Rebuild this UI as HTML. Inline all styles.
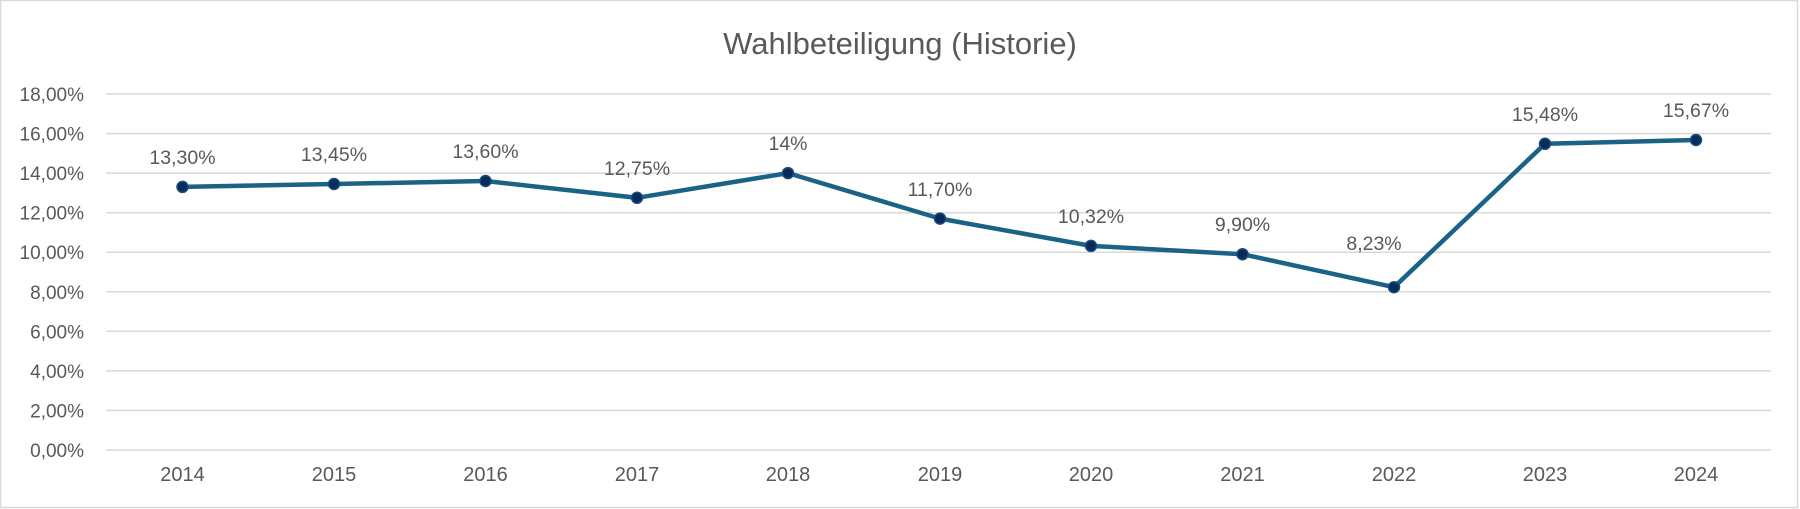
<!DOCTYPE html>
<html><head><meta charset="utf-8"><style>
html,body{margin:0;padding:0;background:#fff}
svg{display:block}
text{font-family:"Liberation Sans",sans-serif;fill:#595959}
</style></head><body>
<svg width="1800" height="509" viewBox="0 0 1800 509" xmlns="http://www.w3.org/2000/svg">
<rect x="0.5" y="0.5" width="1797" height="507" fill="#fff" stroke="#d9d9d9" stroke-width="1.5"/>
<text x="900" y="54" font-size="31" text-anchor="middle">Wahlbeteiligung (Historie)</text>
<g stroke="#d9d9d9" stroke-width="1.5">
<line x1="106" x2="1771" y1="94" y2="94"/><line x1="106" x2="1771" y1="133.6" y2="133.6"/>
<line x1="106" x2="1771" y1="173.1" y2="173.1"/><line x1="106" x2="1771" y1="212.7" y2="212.7"/>
<line x1="106" x2="1771" y1="252.2" y2="252.2"/><line x1="106" x2="1771" y1="291.8" y2="291.8"/>
<line x1="106" x2="1771" y1="331.3" y2="331.3"/><line x1="106" x2="1771" y1="370.9" y2="370.9"/>
<line x1="106" x2="1771" y1="410.4" y2="410.4"/><line x1="106" x2="1771" y1="450" y2="450"/>
</g>
<g font-size="19" text-anchor="end">
<text x="84" y="101">18,00%</text><text x="84" y="140.6">16,00%</text><text x="84" y="180.1">14,00%</text>
<text x="84" y="219.7">12,00%</text><text x="84" y="259.2">10,00%</text><text x="84" y="298.8">8,00%</text>
<text x="84" y="338.3">6,00%</text><text x="84" y="377.9">4,00%</text><text x="84" y="417.4">2,00%</text>
<text x="84" y="457">0,00%</text>
</g>
<g font-size="20" text-anchor="middle">
<text x="182.5" y="481">2014</text><text x="334" y="481">2015</text><text x="485.5" y="481">2016</text>
<text x="637" y="481">2017</text><text x="788" y="481">2018</text><text x="940" y="481">2019</text>
<text x="1091" y="481">2020</text><text x="1242.5" y="481">2021</text><text x="1394" y="481">2022</text>
<text x="1545" y="481">2023</text><text x="1696" y="481">2024</text>
</g>
<polyline fill="none" stroke="#1a6286" stroke-width="4.5" stroke-linejoin="round"
points="182.5,186.9 334,184 485.5,181 637,197.8 788,173.1 940,218.6 1091,245.9 1242.5,254.2 1394,287.2 1545,143.8 1696,140"/>
<g fill="#0b2a5c" stroke="#164f7a" stroke-width="1.5">
<circle cx="182.5" cy="186.9" r="5.5"/><circle cx="334" cy="184" r="5.5"/><circle cx="485.5" cy="181" r="5.5"/>
<circle cx="637" cy="197.8" r="5.5"/><circle cx="788" cy="173.1" r="5.5"/><circle cx="940" cy="218.6" r="5.5"/>
<circle cx="1091" cy="245.9" r="5.5"/><circle cx="1242.5" cy="254.2" r="5.5"/><circle cx="1394" cy="287.2" r="5.5"/>
<circle cx="1545" cy="143.8" r="5.5"/><circle cx="1696" cy="140" r="5.5"/>
</g>
<g font-size="19.5" text-anchor="middle" style="fill:#404040">
<text x="182.5" y="164">13,30%</text><text x="334" y="161">13,45%</text><text x="485.5" y="158">13,60%</text>
<text x="637" y="175">12,75%</text><text x="788" y="150">14%</text><text x="940" y="196">11,70%</text>
<text x="1091" y="223">10,32%</text><text x="1242.5" y="231">9,90%</text><text x="1374" y="250">8,23%</text>
<text x="1545" y="121">15,48%</text><text x="1696" y="117">15,67%</text>
</g>
</svg>
</body></html>
